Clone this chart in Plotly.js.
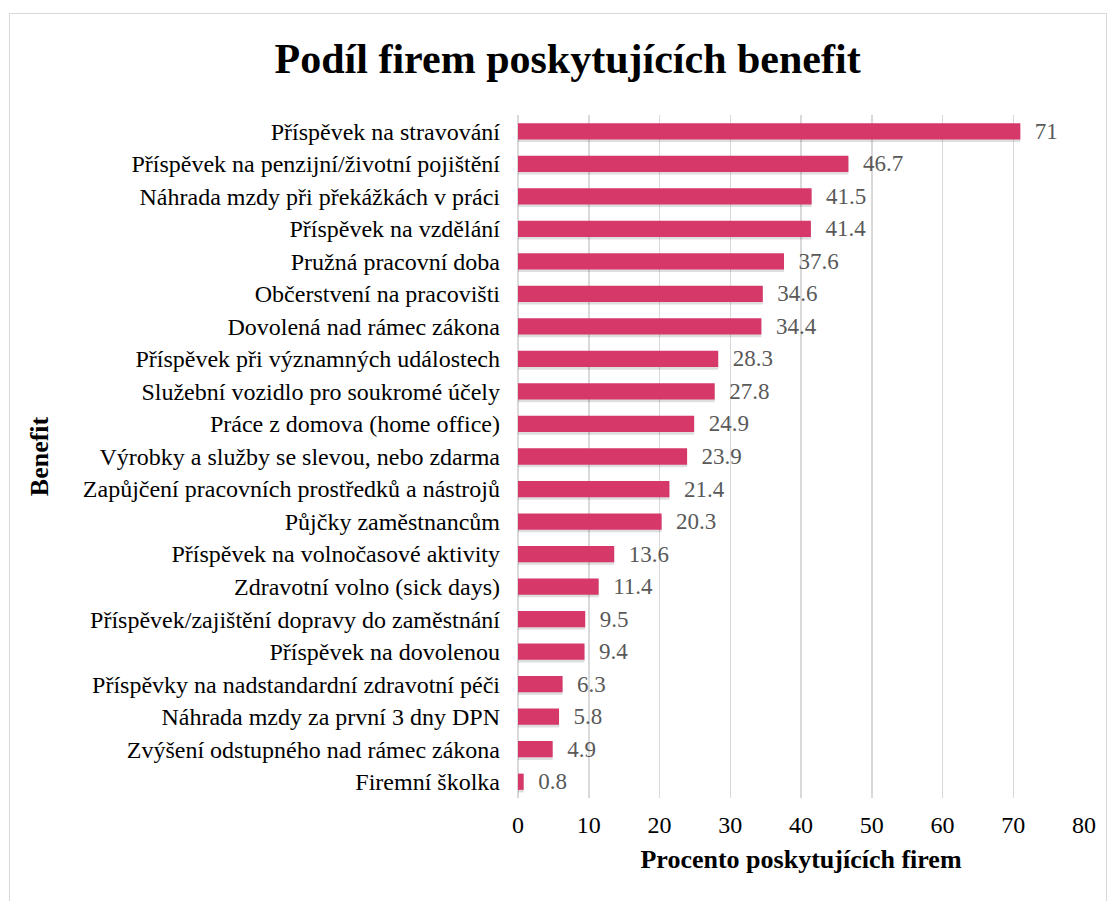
<!DOCTYPE html>
<html><head><meta charset="utf-8">
<script src="https://cdn.plot.ly/plotly-3.0.1.min.js"></script>
<style>
body{margin:0;background:#fff;}
#wrap{position:relative;width:1113px;height:901px;}
#chart{width:1113px;height:901px;}
#frame{position:absolute;left:9px;top:13px;width:1096px;height:900px;border:1px solid #d9d9d9;pointer-events:none;}
</style></head>
<body><div id="wrap"><div id="chart"></div><div id="frame"></div></div>
<script>
const categories = [
"Příspěvek na stravování",
"Příspěvek na penzijní/životní pojištění",
"Náhrada mzdy při překážkách v práci",
"Příspěvek na vzdělání",
"Pružná pracovní doba",
"Občerstvení na pracovišti",
"Dovolená nad rámec zákona",
"Příspěvek při významných událostech",
"Služební vozidlo pro soukromé účely",
"Práce z domova (home office)",
"Výrobky a služby se slevou, nebo zdarma",
"Zapůjčení pracovních prostředků a nástrojů",
"Půjčky zaměstnancům",
"Příspěvek na volnočasové aktivity",
"Zdravotní volno (sick days)",
"Příspěvek/zajištění dopravy do zaměstnání",
"Příspěvek na dovolenou",
"Příspěvky na nadstandardní zdravotní péči",
"Náhrada mzdy za první 3 dny DPN",
"Zvýšení odstupného nad rámec zákona",
"Firemní školka"
];
const values = [71, 46.7, 41.5, 41.4, 37.6, 34.6, 34.4, 28.3, 27.8, 24.9, 23.9, 21.4, 20.3, 13.6, 11.4, 9.5, 9.4, 6.3, 5.8, 4.9, 0.8];
const tickVals = [0,10,20,30,40,50,60,70,80];

const font = "Liberation Serif, Times New Roman, serif";
const shadow = {
  type: 'bar', orientation: 'h',
  x: values, y: categories,
  marker: {color: 'rgba(0,0,0,0.13)', line:{width:0}},
  width: 0.5, offset: -0.17,
  hoverinfo: 'skip'
};
const trace = {
  type: 'bar', orientation: 'h',
  x: values, y: categories,
  marker: {color: '#d6386a', line:{width:0}},
  text: values.map(v => '\u00a0\u00a0' + String(v)),
  textposition: 'outside',
  constraintext: 'none',
  textfont: {family: font, size: 23, color: '#595959'},
  cliponaxis: false,
  width: 0.5, offset: -0.25,
  hoverinfo: 'x+y'
};
const layout = {
  width: 1113, height: 901,
  margin: {l: 518, r: 29, t: 115, b: 103},
  paper_bgcolor: '#fff', plot_bgcolor: '#fff',
  barmode: 'overlay',
  title: {text: '<b>Podíl firem poskytujících benefit</b>', x: 0.51, xanchor:'center', y: 0.935, yanchor:'middle',
          font: {family: font, size: 42, color: '#000'}},
  xaxis: {range: [0, 80], tickvals: tickVals, showgrid: true, gridcolor: '#d9d9d9', gridwidth: 1.5,
          zeroline: true, zerolinecolor: '#d9d9d9', zerolinewidth: 1.5, showline: false,
          ticks: '', ticklen: 0, ticklabelstandoff: 10,
          tickfont: {family: font, size: 24, color: '#000'},
          title: {text: '<b>Procento poskytujících firem</b>', font: {family: font, size: 26, color: '#000'}, standoff: 12}},
  yaxis: {autorange: 'reversed', type: 'category', showgrid: false, showline: false, ticks: '',
          ticklabelstandoff: 17,
          tickfont: {family: font, size: 24, color: '#000'},
          title: {text: '<b>Benefit</b>', font: {family: font, size: 26, color: '#000'}, standoff: 26}},
  showlegend: false
};
Plotly.newPlot('chart', [shadow, trace], layout, {displayModeBar: false, staticPlot: true});
</script></body></html>
